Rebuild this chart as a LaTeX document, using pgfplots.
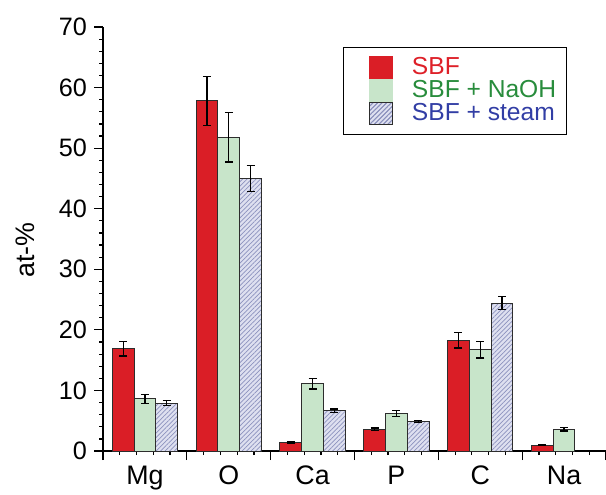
\documentclass[border=0pt]{standalone}
\usepackage{fontspec}
\setmainfont{Liberation Sans}
\usepackage{pgfplots}
\usepackage{pgfplotstable}
\pgfplotsset{compat=1.18}
\usetikzlibrary{patterns.meta,calc}

\definecolor{sbfred}{RGB}{218,30,38}
\definecolor{naohfill}{RGB}{200,229,202}
\definecolor{steamfill}{RGB}{222,224,240}
\definecolor{steamline}{RGB}{140,146,190}
\definecolor{txtred}{RGB}{222,32,40}
\definecolor{txtgreen}{RGB}{40,140,60}
\definecolor{txtblue}{RGB}{50,62,165}
\definecolor{edge}{RGB}{45,45,45}

\pgfplotstableread{
x sbf esbf naoh enaoh steam esteam
0 16.9 1.2  8.6 0.7  7.9  0.4
1 57.8 4.0  51.8 4.1 45.0 2.2
2 1.4  0.1  11.1 0.85 6.65 0.3
3 3.6  0.2  6.2 0.5  4.85 0.2
4 18.3 1.3  16.7 1.35 24.4 1.1
5 0.95 0.05 3.6 0.3  nan  nan
}\datatable

% square legend swatches, no outline
\pgfplotsset{
  swatch/.style={legend image code/.code={
    \path (-7.5pt,0pt) (21pt,0pt);
    \fill[#1] (0pt,-5.5pt) rectangle (11.5pt,5.5pt);}},
  hatchswatch/.style={legend image code/.code={
    \path (-7.5pt,0pt) (21pt,0pt);
    \fill[steamfill] (0pt,-5.5pt) rectangle (11.5pt,5.5pt);
    \fill[pattern={Lines[angle=45,distance=1.6pt,line width=0.35pt]}, pattern color=steamline]
      (0pt,-5.5pt) rectangle (11.5pt,5.5pt);}},
}

\begin{document}
\begin{tikzpicture}
\begin{axis}[
  scale only axis, width=251.5pt, height=212pt,
  xmin=-0.5, xmax=5.5, ymin=0, ymax=70,
  axis x line*=bottom, axis y line*=left,
  axis line style={line width=0.6pt, black},
  ybar=0pt, bar width=0.26,
  xtick={-0.5,0.5,...,5.5}, xticklabels={}, minor x tick num=4,
  extra x ticks={0,...,5}, extra x tick labels={Mg,O,Ca,P,C,Na},
  extra x tick style={major tick length=0pt,
    tick label style={font=\fontsize{13.4}{15}\selectfont, yshift=-4pt}},
  ytick={0,10,...,70}, minor y tick num=4,
  tick align=outside, major tick length=4.5pt, minor tick length=2pt,
  tick style={line width=0.6pt, black},
  tick label style={font=\fontsize{12.6}{14}\selectfont},
  /pgf/number format/assume math mode=true,
  ylabel={at-\%},
  every axis y label/.style={at={(axis description cs:-0.155,0.474)}, rotate=90,
    anchor=center, font=\fontsize{13.4}{15}\selectfont},
  every axis plot/.append style={draw=edge, line width=0.5pt},
  error bars/y dir=both, error bars/y explicit,
  error bars/error bar style={black, line width=0.6pt},
  error bars/error mark options={black, mark size=2pt, line width=0.6pt, rotate=90},
  legend style={at={(axis description cs:0.478,0.953)}, anchor=north west,
    draw=black, line width=0.5pt, inner xsep=5pt, inner ysep=4.5pt,
    font=\fontsize{12.3}{14}\selectfont, row sep=0pt,
    nodes={inner sep=0pt, text height=8.8pt, text depth=2.2pt}},
  legend cell align=left,
]
\addplot[fill=sbfred, swatch={sbfred}] table[x=x, y=sbf, y error=esbf] {\datatable};
\addlegendentry{\textcolor{txtred}{SBF}}
\addplot[fill=naohfill, swatch={naohfill}] table[x=x, y=naoh, y error=enaoh] {\datatable};
\addlegendentry{\textcolor{txtgreen}{SBF + NaOH}}
\addplot[fill=steamfill, hatchswatch, postaction={pattern={Lines[angle=45,distance=1.6pt,line width=0.35pt]}, pattern color=steamline}]
  table[x=x, y=steam, y error=esteam] {\datatable};
\addlegendentry{\textcolor{txtblue}{SBF + steam}}
\coordinate (ll) at (rel axis cs:0,0);
\coordinate (ur) at (rel axis cs:1,1);
\end{axis}
\pgfresetboundingbox
\path ($(ll)+(-51.5pt,-21.5pt)$) rectangle ($(ur)+(0pt,13.5pt)$);
\end{tikzpicture}
\end{document}
